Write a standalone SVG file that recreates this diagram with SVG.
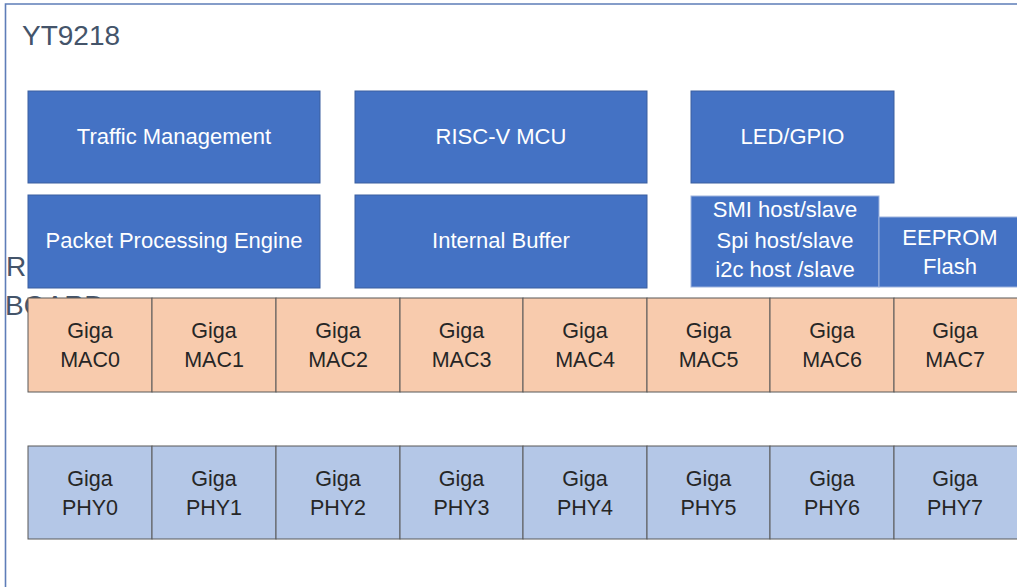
<svg xmlns="http://www.w3.org/2000/svg" width="1017" height="587" viewBox="0 0 1017 587">
<style>
.frame{fill:none;stroke:#5E7DB8;stroke-width:1.6}
.title{font-family:"Liberation Sans",Arial,sans-serif;font-size:28px;fill:#44546A}
.blk{fill:#4472C4;stroke:#3A5F9F;stroke-width:1}
.blk2{fill:#4472C4;stroke:#9DB3DE;stroke-width:1}
.bt{font-family:"Liberation Sans",Arial,sans-serif;font-size:22px;fill:#FFFFFF;text-anchor:middle}
.mac{fill:#F8CBAD;stroke:#595959;stroke-width:1}
.phy{fill:#B4C7E7;stroke:#595959;stroke-width:1}
.ct{font-family:"Liberation Sans",Arial,sans-serif;font-size:21.5px;fill:#262626;text-anchor:middle}
</style>
<rect x="0" y="0" width="1017" height="587" fill="#FFFFFF"/>
<path class="frame" d="M5.5,600 V4 H1030"/>
<text class="title" x="22" y="45">YT9218</text>
<g id="board-label">
<text class="title" x="6" y="276">R</text>
<text class="title" x="5" y="315">BOARD</text>
</g>
<g id="traffic-management"><rect class="blk" x="28" y="91" width="292" height="92"/><text class="bt" x="174" y="144">Traffic Management</text></g>
<g id="packet-processing-engine"><rect class="blk" x="28" y="195" width="292" height="93"/><text class="bt" x="174" y="248">Packet Processing Engine</text></g>
<g id="risc-v-mcu"><rect class="blk" x="355" y="91" width="292" height="92"/><text class="bt" x="501" y="144">RISC-V MCU</text></g>
<g id="internal-buffer"><rect class="blk" x="355" y="195" width="292" height="93"/><text class="bt" x="501" y="248">Internal Buffer</text></g>
<g id="led-gpio"><rect class="blk" x="691" y="91" width="203" height="92"/><text class="bt" x="792.5" y="144">LED/GPIO</text></g>
<g id="smi-spi-i2c"><rect class="blk2" x="691" y="196" width="188" height="91"/><text class="bt" x="785" y="217">SMI host/slave</text><text class="bt" x="785" y="248">Spi host/slave</text><text class="bt" x="785" y="277">i2c host /slave</text></g>
<g id="eeprom-flash"><rect class="blk2" x="879" y="217" width="145" height="70"/><text class="bt" x="950" y="245">EEPROM</text><text class="bt" x="950" y="274">Flash</text></g>
<g id="mac0"><rect class="mac" x="28" y="298" width="124" height="94"/><text class="ct" x="90" y="338">Giga</text><text class="ct" x="90" y="367">MAC0</text></g>
<g id="mac1"><rect class="mac" x="152" y="298" width="124" height="94"/><text class="ct" x="214" y="338">Giga</text><text class="ct" x="214" y="367">MAC1</text></g>
<g id="mac2"><rect class="mac" x="276" y="298" width="124" height="94"/><text class="ct" x="338" y="338">Giga</text><text class="ct" x="338" y="367">MAC2</text></g>
<g id="mac3"><rect class="mac" x="400" y="298" width="123" height="94"/><text class="ct" x="461.5" y="338">Giga</text><text class="ct" x="461.5" y="367">MAC3</text></g>
<g id="mac4"><rect class="mac" x="523" y="298" width="124" height="94"/><text class="ct" x="585" y="338">Giga</text><text class="ct" x="585" y="367">MAC4</text></g>
<g id="mac5"><rect class="mac" x="647" y="298" width="123" height="94"/><text class="ct" x="708.5" y="338">Giga</text><text class="ct" x="708.5" y="367">MAC5</text></g>
<g id="mac6"><rect class="mac" x="770" y="298" width="124" height="94"/><text class="ct" x="832" y="338">Giga</text><text class="ct" x="832" y="367">MAC6</text></g>
<g id="mac7"><rect class="mac" x="894" y="298" width="140" height="94"/><text class="ct" x="955" y="338">Giga</text><text class="ct" x="955" y="367">MAC7</text></g>
<g id="phy0"><rect class="phy" x="28" y="446" width="124" height="93"/><text class="ct" x="90" y="486">Giga</text><text class="ct" x="90" y="515">PHY0</text></g>
<g id="phy1"><rect class="phy" x="152" y="446" width="124" height="93"/><text class="ct" x="214" y="486">Giga</text><text class="ct" x="214" y="515">PHY1</text></g>
<g id="phy2"><rect class="phy" x="276" y="446" width="124" height="93"/><text class="ct" x="338" y="486">Giga</text><text class="ct" x="338" y="515">PHY2</text></g>
<g id="phy3"><rect class="phy" x="400" y="446" width="123" height="93"/><text class="ct" x="461.5" y="486">Giga</text><text class="ct" x="461.5" y="515">PHY3</text></g>
<g id="phy4"><rect class="phy" x="523" y="446" width="124" height="93"/><text class="ct" x="585" y="486">Giga</text><text class="ct" x="585" y="515">PHY4</text></g>
<g id="phy5"><rect class="phy" x="647" y="446" width="123" height="93"/><text class="ct" x="708.5" y="486">Giga</text><text class="ct" x="708.5" y="515">PHY5</text></g>
<g id="phy6"><rect class="phy" x="770" y="446" width="124" height="93"/><text class="ct" x="832" y="486">Giga</text><text class="ct" x="832" y="515">PHY6</text></g>
<g id="phy7"><rect class="phy" x="894" y="446" width="140" height="93"/><text class="ct" x="955" y="486">Giga</text><text class="ct" x="955" y="515">PHY7</text></g>
<g id="connectors"></g>
</svg>
